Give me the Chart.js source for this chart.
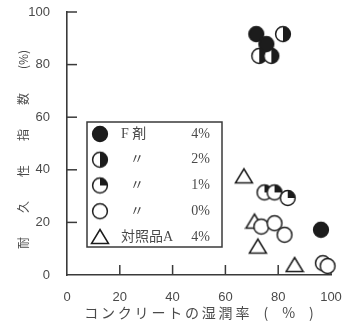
<!DOCTYPE html>
<html>
<head>
<meta charset="utf-8">
<script src="https://cdn.jsdelivr.net/npm/chart.js@4.4.0/dist/chart.umd.min.js"></script>
<style>
  html, body { margin: 0; padding: 0; background: #fff; }
</style>
</head>
<body>
<canvas id="chart" width="342" height="326"></canvas>
<script>
// legend text for each series: agent name + dosage
const seriesNames = ["F 剤", "〃", "〃", "〃", "対照品A"];
const seriesDose = ["4%", "2%", "1%", "0%", "4%"];
const seriesMarks = ["full", "half", "quarter", "open", "triangle"];

// x = concrete moisture (%), y = durability index (%)
const xF4 = [71.7, 75.5, 96.2];
const yF4 = [91.6, 87.8, 17.2];
const xF2 = [81.8, 72.8, 77.4];
const yF2 = [91.6, 83.3, 83.3];
const xF1 = [74.8, 78.6, 83.6];
const yF1 = [31.4, 31.4, 29.3];
const xF0 = [73.6, 78.6, 82.4, 96.9, 98.7];
const yF0 = [18.4, 19.7, 15.3, 4.5, 3.4];
const xRefA = [67.0, 71.0, 72.3, 86.2];
const yRefA = [37.5, 20.3, 10.8, 3.8];

const xTicks = [0, 20, 40, 60, 80, 100];
const yTicks = [0, 20, 40, 60, 80, 100];

const ink = "#1c1c1c";
const axisColor = "#3a3a3a";
const textColor = "#4a4a4a";

// build point images for the five marker kinds
function makeMark(kind) {
  const r = 7.4;
  const c = document.createElement("canvas");
  c.width = 20;
  c.height = 20;
  const g = c.getContext("2d");
  const cx = 10, cy = 10;
  g.lineWidth = 1.5;
  g.strokeStyle = ink;
  g.fillStyle = "#fff";
  if (kind === "triangle") {
    g.beginPath();
    g.moveTo(cx, cy - 7.5);
    g.lineTo(cx + 8.5, cy + 6.5);
    g.lineTo(cx - 8.5, cy + 6.5);
    g.closePath();
    g.fill();
    g.stroke();
    return c;
  }
  g.beginPath();
  g.arc(cx, cy, r, 0, Math.PI * 2);
  g.fill();
  g.fillStyle = ink;
  if (kind === "full") {
    g.fill();
  } else if (kind === "half") {
    g.beginPath();
    g.moveTo(cx, cy);
    g.arc(cx, cy, r, -Math.PI / 2, Math.PI / 2);
    g.closePath();
    g.fill();
  } else if (kind === "quarter") {
    g.beginPath();
    g.moveTo(cx, cy);
    g.arc(cx, cy, r, -Math.PI / 2, 0);
    g.closePath();
    g.fill();
  }
  g.beginPath();
  g.arc(cx, cy, r, 0, Math.PI * 2);
  g.stroke();
  return c;
}

function toPoints(xs, ys) {
  return xs.map((x, i) => ({ x: x, y: ys[i] }));
}

const seriesX = [xF4, xF2, xF1, xF0, xRefA];
const seriesY = [yF4, yF2, yF1, yF0, yRefA];

const datasets = seriesNames.map((name, i) => {
  const mark = makeMark(seriesMarks[i]);
  return {
    label: name + " " + seriesDose[i],
    data: toPoints(seriesX[i], seriesY[i]),
    pointStyle: mark,
    pointRadius: 8,
    clip: false,
    mark: mark,
  };
});

// small tick marks pointing into the plot
const innerTicks = {
  id: "innerTicks",
  beforeDatasetsDraw(chart) {
    const { ctx, scales: { x, y } } = chart;
    ctx.save();
    ctx.strokeStyle = axisColor;
    ctx.lineWidth = 1.5;
    xTicks.slice(1).forEach((v) => {
      const px = x.getPixelForValue(v);
      ctx.beginPath();
      ctx.moveTo(px, y.bottom);
      ctx.lineTo(px, y.bottom - 10);
      ctx.stroke();
    });
    yTicks.slice(1).forEach((v) => {
      const py = y.getPixelForValue(v);
      ctx.beginPath();
      ctx.moveTo(x.left, py);
      ctx.lineTo(x.left + 10, py);
      ctx.stroke();
    });
    ctx.restore();
  },
};

// framed legend inside the plot area
const boxLegend = {
  id: "boxLegend",
  afterDatasetsDraw(chart) {
    const { ctx, chartArea } = chart;
    const left = chartArea.left + 20;
    const top = chartArea.top + 110;
    const w = 135, h = 125;
    ctx.save();
    ctx.fillStyle = "#fff";
    ctx.fillRect(left, top, w, h);
    ctx.strokeStyle = axisColor;
    ctx.lineWidth = 1.5;
    ctx.strokeRect(left, top, w, h);
    ctx.fillStyle = textColor;
    ctx.textBaseline = "middle";
    ctx.font = "14px 'Liberation Serif', 'Noto Sans CJK JP'";
    chart.data.datasets.forEach((ds, i) => {
      const cy = top + 12 + i * 25.75;
      ctx.drawImage(ds.mark, left + 13 - 10, cy - 10);
      const name = seriesNames[i];
      if (name === "〃") {
        ctx.textAlign = "center";
        ctx.fillText(name, left + 50, cy);
      } else {
        ctx.textAlign = "left";
        ctx.fillText(name, left + 34, cy);
      }
      ctx.textAlign = "right";
      ctx.fillText(seriesDose[i], left + w - 12, cy);
    });
    ctx.restore();
  },
};

new Chart(document.getElementById("chart"), {
  type: "scatter",
  data: { datasets: datasets },
  options: {
    responsive: false,
    animation: false,
    devicePixelRatio: 1,
    layout: { padding: { top: 12, right: 11, left: 0, bottom: 0 }, autoPadding: false },
    plugins: { legend: { display: false }, tooltip: { enabled: false } },
    scales: {
      x: {
        type: "linear",
        min: 0,
        max: 100,
        afterFit: (s) => {
          s.height = 51;
          s.paddingLeft = 0;
          s.paddingRight = 0;
        },
        afterBuildTicks: (s) => { s.ticks = xTicks.map((v) => ({ value: v })); },
        grid: { display: false },
        border: { display: true, color: axisColor, width: 1.6 },
        ticks: {
          padding: 7,
          color: textColor,
          font: { family: "'Liberation Sans'", size: 13 },
        },
        title: {
          display: true,
          text: "コ\u2009ン\u2009ク\u2009リ\u2009ー\u2009ト\u2009の\u2009湿\u2009潤\u2009率\u2003(\u2003%\u2003)",
          color: textColor,
          font: { family: "'Noto Sans CJK JP'", size: 14 },
          padding: { top: 0, bottom: 5 },
        },
      },
      y: {
        min: 0,
        max: 100,
        afterFit: (s) => {
          s.width = 67;
          s.paddingTop = 0;
          s.paddingBottom = 0;
        },
        afterBuildTicks: (s) => { s.ticks = yTicks.map((v) => ({ value: v })); },
        grid: { display: false },
        border: { display: true, color: axisColor, width: 1.6 },
        ticks: {
          padding: 9,
          color: textColor,
          font: { family: "'Liberation Sans'", size: 13 },
        },
        title: {
          display: true,
          text: "耐　　久　　性　　指　　数　　(%)　",
          color: textColor,
          font: { family: "'Noto Sans CJK JP'", size: 12 },
          padding: { top: 16, bottom: 0 },
        },
      },
    },
  },
  plugins: [innerTicks, boxLegend],
});
</script>
</body>
</html>
